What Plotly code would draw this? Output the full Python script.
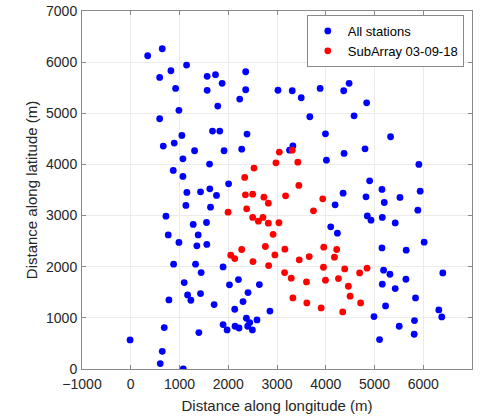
import plotly.graph_objects as go

# All stations (visible blue points), metres
all_x = [347, 646, 1145, 824, 593, 1567, 1738, 1874, 2358, 920, 1567, 2358, 3020, 2235, 1785,
         988, 593, 1677, 1826, 2385, 1049, 667, 892, 1309, 1914, 2276, 1070, 1616, 872, 1070,
         2007, 1151, 1431, 1622, 1759, 1131, 1636, 722, 1281, 1554, 769, 1383, 988, 1356, 1560,
         879, 1329, 1894, 1444, 2209, 1096, 2025, 2638, 1166, 1233, 1431, 2405, 783, 1710, 2303,
         2133, 2855, 2372, 2440, 2590, 1894, 1976, 2139, 2221, 2399, 2495, 687, 1397, -14, 646,
         605, 1077,
         4062, 3313, 3497, 3885, 4368, 4479, 4839, 3673, 4581, 3994, 5330, 3326, 3258, 4376,
         4806, 4014, 5910, 4900,
         5153, 5937, 4356, 4826, 5200, 5522, 4192, 5889, 4853, 4928, 5160, 5425, 4102, 4239,
         6018, 5153, 5650, 5186, 5317, 6401, 5160, 5644, 5425, 5841, 5227, 6319, 6380, 4990,
         5820, 5507, 5814, 5104]
all_y = [6125, 6262, 5943, 5832, 5702, 5722, 5754, 5585, 5812, 5487, 5448, 5460, 5450, 5278, 5141,
         5057, 4893, 4652, 4652, 4593, 4567, 4358, 4417, 4267, 4267, 4299, 4110, 4006, 3882, 3765,
         3620, 3452, 3464, 3523, 3393, 3198, 3164, 2988, 2826, 2865, 2622, 2622, 2474, 2408, 2435,
         2049, 2049, 1996, 1886, 1749, 1690, 1645, 1651, 1449, 1344, 1475, 1495, 1351, 1260, 1319,
         1168, 1132, 992, 908, 959, 869, 764, 836, 802, 836, 764, 810, 712, 568, 346,
         106, 0,
         6061, 5441, 5304, 5487, 5441, 5585, 5205, 4932, 4951, 4599, 4541, 4364, 4279, 4215,
         4305, 4084, 4000, 3680,
         3511, 3478, 3438, 3366, 3256, 3354, 3210, 3106, 2994, 2910, 2963, 2857, 2779, 2656,
         2480, 2368, 2323, 1932, 1853, 1879, 1658, 1755, 1573, 1390, 1233, 1155, 1018, 1025,
         947, 836, 679, 575]

# SubArray 03-09-18, metres
sub_x = [3047, 2978, 3313, 3427, 2528, 2337, 3448, 2352, 2501, 2732, 3176, 3939, 2822, 2378, 1996,
         3748, 2501, 2618, 2712, 2822, 3040, 2920, 2761, 3162, 2957, 2276, 2051, 2133, 2507, 2828,
         3456, 3660, 3959, 4225, 4178, 3155, 3292, 3605, 3953, 3994, 4260, 4389, 4695, 4847, 4464,
         4499, 4716, 3326, 3612, 3906, 4348]
sub_y = [4241, 4032, 4279, 4045, 3928, 3746, 3589, 3406, 3419, 3360, 3386, 3327, 3243, 3131, 3067,
         3092, 2963, 2890, 2963, 2851, 2860, 2633, 2395, 2342, 2231, 2337, 2225, 2160, 2101, 2023,
         2134, 2199, 2382, 2337, 2186, 1886, 1775, 1703, 1990, 1736, 1769, 1957, 1879, 1971, 1618,
         1423, 1292, 1390, 1292, 1194, 1116]

x_ticks = [-1000, 0, 1000, 2000, 3000, 4000, 5000, 6000]
y_ticks = [0, 1000, 2000, 3000, 4000, 5000, 6000, 7000]

FONT = "Liberation Sans, Arial, sans-serif"
TXT = "#262626"
LINE = "#8a8a8a"

fig = go.Figure()
fig.add_trace(go.Scatter(x=all_x, y=all_y, mode="markers", name="All stations",
                         marker=dict(color="#0000ff", size=6.8, line=dict(width=0))))
fig.add_trace(go.Scatter(x=sub_x, y=sub_y, mode="markers", name="SubArray 03-09-18",
                         marker=dict(color="#ff0000", size=6.8, line=dict(width=0))))

axis_common = dict(showline=True, linecolor=LINE, linewidth=1, mirror="allticks",
                   ticks="inside", ticklen=4, tickcolor=LINE, showgrid=True,
                   gridcolor="#ebebeb", gridwidth=1, zeroline=False, automargin=False,
                   tickfont=dict(family=FONT, size=14, color=TXT))

fig.update_xaxes(range=[-1000, 7000], tickvals=x_ticks, ticklabelstandoff=2,
                 title=dict(text="Distance along longitude (m)",
                            font=dict(family=FONT, size=15, color=TXT), standoff=9),
                 **axis_common)
fig.update_yaxes(range=[0, 7000], tickvals=y_ticks, ticklabelstandoff=1,
                 title=dict(text="Distance along latitude (m)",
                            font=dict(family=FONT, size=15, color=TXT), standoff=4),
                 **axis_common)

fig.update_layout(
    width=487, height=419, autosize=False,
    margin=dict(l=82, r=15, t=11, b=50),
    plot_bgcolor="white", paper_bgcolor="white",
    font=dict(family=FONT, color=TXT),
    showlegend=True,
    legend=dict(x=0.979, y=0.989, xanchor="right", yanchor="top",
                bgcolor="white", bordercolor=LINE, borderwidth=1,
                font=dict(family=FONT, size=13, color="#000000"),
                tracegroupgap=0),
)

fig.write_html("out.html", config={"displayModeBar": False},
               post_script="document.body.style.margin='0';")
